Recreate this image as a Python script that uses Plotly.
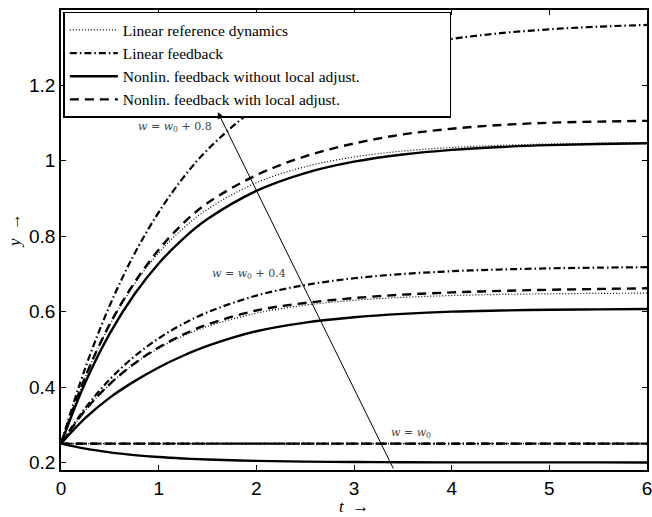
import plotly.graph_objects as go

# time samples
t = [0, 0.25, 0.5, 0.75, 1, 1.25, 1.5, 2, 2.5, 3, 3.5, 4, 4.5, 5, 5.5, 6]

# group w = w0
ref_w0 = [0.25] * 16
linfb_w0 = [0.25] * 16
nl_no_w0 = [0.25, 0.2366, 0.2268, 0.2196, 0.2143, 0.2105, 0.2077, 0.2041, 0.2022, 0.2012, 0.2006, 0.2003, 0.2002, 0.2001, 0.2001, 0.2000]
nl_adj_w0 = [0.25] * 16

# group w = w0 + 0.4
ref_w4 = [0.25, 0.3385, 0.4074, 0.461, 0.5028, 0.5354, 0.5608, 0.5959, 0.6172, 0.6301, 0.6379, 0.6427, 0.6456, 0.6473, 0.6484, 0.649]
linfb_w4 = [0.25, 0.3448, 0.4205, 0.4809, 0.5291, 0.5676, 0.5983, 0.6425, 0.6706, 0.6885, 0.6999, 0.7072, 0.7118, 0.7148, 0.7167, 0.7179]
nl_no_w4 = [0.25, 0.318, 0.372, 0.415, 0.452, 0.483, 0.509, 0.548, 0.571, 0.585, 0.594, 0.600, 0.603, 0.605, 0.606, 0.607]
nl_adj_w4 = [0.25, 0.339, 0.408, 0.462, 0.505, 0.539, 0.566, 0.603, 0.623, 0.636, 0.645, 0.651, 0.655, 0.658, 0.660, 0.662]

# group w = w0 + 0.8
ref_w8 = [0.25, 0.427, 0.5648, 0.6721, 0.7557, 0.8208, 0.8715, 0.9418, 0.9843, 1.0102, 1.0258, 1.0354, 1.0411, 1.0446, 1.0467, 1.048]
linfb_w8 = [0.25, 0.4517, 0.6169, 0.7524, 0.8635, 0.9547, 1.0294, 1.141, 1.216, 1.2664, 1.3003, 1.3232, 1.3385, 1.3488, 1.3558, 1.3604]
nl_no_w8 = [0.25, 0.4126, 0.5422, 0.6454, 0.7277, 0.7932, 0.8454, 0.9202, 0.9676, 0.9977, 1.0168, 1.029, 1.0366, 1.0415, 1.0446, 1.0466]
nl_adj_w8 = [0.25, 0.428, 0.567, 0.676, 0.764, 0.834, 0.888, 0.962, 1.012, 1.046, 1.070, 1.085, 1.095, 1.101, 1.104, 1.106]

names = ["Linear reference dynamics", "Linear feedback",
         "Nonlin. feedback without local adjust.", "Nonlin. feedback with local adjust."]
groups = [
    [ref_w0, ref_w4, ref_w8],
    [linfb_w0, linfb_w4, linfb_w8],
    [nl_no_w0, nl_no_w4, nl_no_w8],
    [nl_adj_w0, nl_adj_w4, nl_adj_w8],
]
styles = [
    dict(dash="1px,2px", width=1.2),
    dict(dash="7px,3px,1.5px,3px", width=2.2),
    dict(dash="solid", width=2.4),
    dict(dash="9px,6px", width=2.4),
]

# arrow and labels
arrow_tail = (3.41, 0.18)
arrow_head = (1.606, 1.129)
labels = ["<i>w</i> = <i>w</i><sub>0</sub> + 0.8", "<i>w</i> = <i>w</i><sub>0</sub> + 0.4", "<i>w</i> = <i>w</i><sub>0</sub>"]
label_x = [1.17, 1.92, 3.58]
label_y = [1.09, 0.699, 0.278]

xticks = [0, 1, 2, 3, 4, 5, 6]
yticks = [0.2, 0.4, 0.6, 0.8, 1.0, 1.2]
yticktext = ["0.2", "0.4", "0.6", "0.8", "1", "1.2"]

fig = go.Figure()
for i, (nm, series, st) in enumerate(zip(names, groups, styles)):
    # trailing non-breaking spaces widen the legend box like the original
    shown = nm + ("\u00a0" * 22 if i == 2 else "")
    for j, ys in enumerate(series):
        fig.add_trace(go.Scatter(
            x=t, y=ys, mode="lines", name=shown,
            showlegend=(j == 0),
            line=dict(color="black", width=st["width"], dash=st["dash"], shape="spline"),
        ))

fig.add_annotation(x=arrow_head[0], y=arrow_head[1], ax=arrow_tail[0], ay=arrow_tail[1],
                   xref="x", yref="y", axref="x", ayref="y", text="",
                   showarrow=True, arrowhead=2, arrowsize=1.3, arrowwidth=1, arrowcolor="black")
for tx, lx, ly in zip(labels, label_x, label_y):
    fig.add_annotation(x=lx, y=ly, xref="x", yref="y", text=tx, showarrow=False,
                       font=dict(family="DejaVu Serif", size=11, color="#444"))

fig.add_annotation(x=-0.078, y=0.52, xref="paper", yref="paper", text="<i>y</i>  →",
                   textangle=-90, showarrow=False, xanchor="center", yanchor="middle",
                   font=dict(family="Liberation Serif", size=17, color="black"))
fig.add_annotation(x=0.5, y=-0.055, xref="paper", yref="paper", text="<i>t</i>  →",
                   showarrow=False, xanchor="center", yanchor="top",
                   font=dict(family="Liberation Serif", size=17, color="black"))

axis_common = dict(showline=True, linecolor="black", linewidth=1.5, mirror="ticks",
                   ticks="inside", ticklen=5, tickcolor="black", tickwidth=1,
                   showgrid=False, zeroline=False, ticklabeloverflow="allow",
                   automargin=False,
                   tickfont=dict(family="Liberation Sans", size=19, color="black"))
fig.update_xaxes(range=[0, 6], tickvals=xticks, **axis_common)
fig.update_yaxes(range=[0.18, 1.4], tickvals=yticks, ticktext=yticktext, **axis_common)

fig.update_layout(
    width=652, height=517,
    margin=dict(l=61, r=5, t=10, b=47, autoexpand=False),
    plot_bgcolor="white", paper_bgcolor="white",
    legend=dict(x=0.004, y=0.996, xanchor="left", yanchor="top",
                bgcolor="white", bordercolor="black", borderwidth=1.5,
                font=dict(family="Liberation Serif", size=15.5, color="black"),
                itemwidth=48),
)

fig.write_html("out.html", config={"displayModeBar": False},
               post_script="document.body.style.margin='0';")
